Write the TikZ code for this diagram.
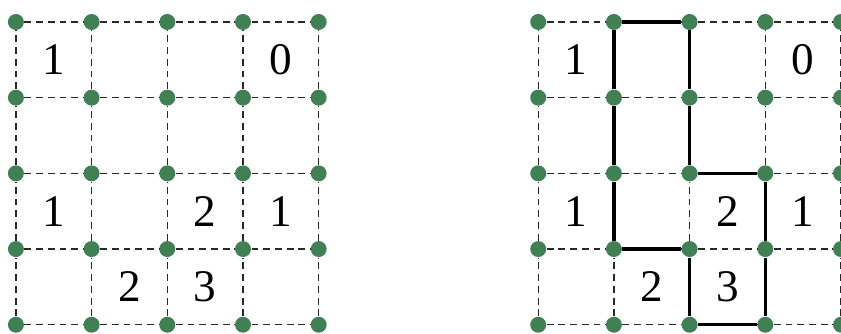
\documentclass[tikz,border=0pt]{standalone}
\usepackage{fontspec}
\setmainfont{Liberation Serif}
\definecolor{dotgreen}{RGB}{64, 128, 84}
\definecolor{gridgray}{RGB}{40, 40, 40}

\begin{document}
\begin{tikzpicture}[x=1cm, y=1cm]
\useasboundingbox (-0.21, -0.12) rectangle (10.9, 4.29);
% two boards: L on the left, R on the right
\foreach \g/\ox in {L/0, R/6.9} {
  \foreach \i in {0,...,4} {
    \foreach \j in {0,...,4} {
      \node (\g-\i-\j) [circle, minimum size=6pt, inner sep=0pt, fill=dotgreen] at (\ox+\i, \j) {};
    }
  }
  \foreach \i/\j/\t [count=\n] in {0/3/1, 3/3/0, 0/1/1, 2/1/2, 3/1/1, 1/0/2, 2/0/3} {
    \node (\g-num-\n) [font=\fontsize{17}{20}\selectfont] at (\ox+\i+0.5, \j+0.5) {\t};
  }
}
% dashed grid
\foreach \g in {L, R} {
  \foreach \i in {0,...,4} {
    \foreach \j [evaluate=\j as \k using int(\j+1)] in {0,...,3} {
      \draw [line width=0.5pt, color=gridgray, dash pattern=on 2.6pt off 1.8pt] (\g-\i-\j) -- (\g-\i-\k);
      \draw [line width=0.5pt, color=gridgray, dash pattern=on 2.6pt off 1.8pt] (\g-\j-\i) -- (\g-\k-\i);
    }
  }
}
% the loop on the right board, one unit edge at a time
\foreach \a/\b in {1-4/2-4, 2-4/2-3, 2-3/2-2, 2-2/3-2, 3-2/3-1, 3-1/3-0, 3-0/2-0, 2-0/2-1, 2-1/1-1, 1-1/1-2, 1-2/1-3, 1-3/1-4} {
  \draw [line width=1.3pt, color=black] (R-\a) -- (R-\b);
}
\end{tikzpicture}
\end{document}
